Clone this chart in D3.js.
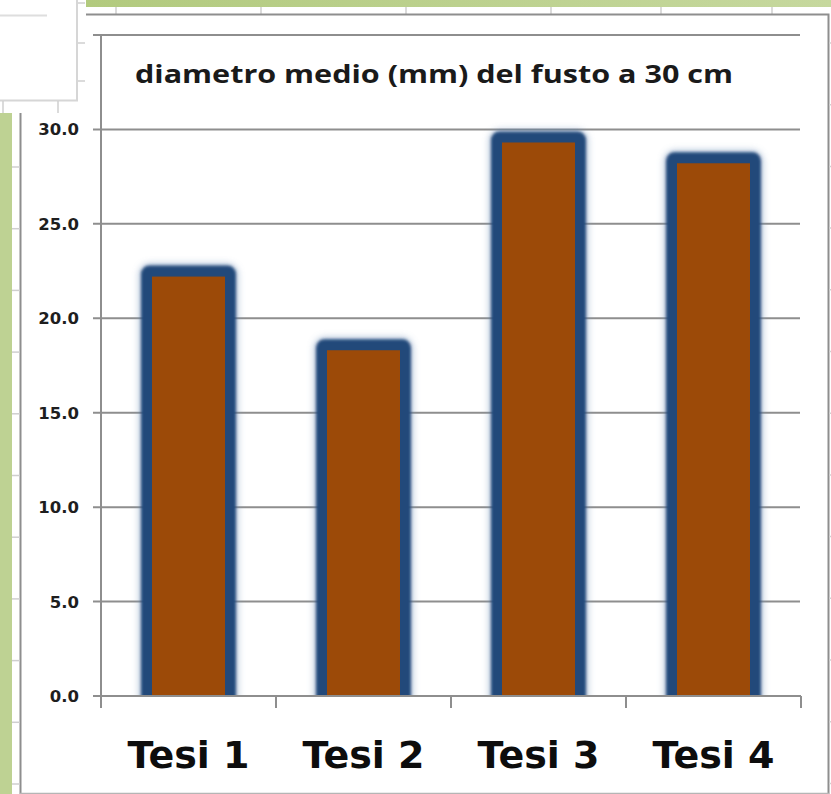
<!DOCTYPE html>
<html>
<head>
<meta charset="utf-8">
<script src="https://cdn.jsdelivr.net/npm/d3@7"></script>
<style>
  html, body { margin: 0; padding: 0; background: #fff; }
  svg { display: block; }
</style>
</head>
<body>
<svg id="chart" width="831" height="794"></svg>
<script>
// Mean stem diameter (mm) measured at 30 cm, one bar per treatment
const categories = ["Tesi 1", "Tesi 2", "Tesi 3", "Tesi 4"];
const diameters = [22.5, 18.6, 29.6, 28.5];
const yTickValues = [0, 5, 10, 15, 20, 25, 30, 35];
// the 35.0 label sits under the cell panel in the top-left corner, so it is not listed
const yTickLabels = ["0.0", "5.0", "10.0", "15.0", "20.0", "25.0", "30.0"];
const chartTitle = "diametro medio (mm) del fusto a 30 cm";

const W = 831, H = 794;
const plot = { left: 101, right: 801, top: 35, bottom: 696 };
const axisGray = "#8e8e8e";
const sheetGray = "#cfcfcf";

const svg = d3.select("#chart");
svg.append("rect").attr("width", W).attr("height", H).attr("fill", "#fff");

const defs = svg.append("defs");
const grad = defs.append("linearGradient").attr("id", "greenBar").attr("x1", "0").attr("x2", "1");
grad.append("stop").attr("offset", "0").attr("stop-color", "#b2ca7e");
grad.append("stop").attr("offset", "1").attr("stop-color", "#c6d89e");
defs.append("filter").attr("id", "soft").attr("x", "-20%").attr("y", "-20%").attr("width", "140%").attr("height", "140%")
  .append("feGaussianBlur").attr("stdDeviation", 1.6);
defs.append("filter").attr("id", "halo").attr("x", "-30%").attr("y", "-30%").attr("width", "160%").attr("height", "160%")
  .append("feGaussianBlur").attr("stdDeviation", 3.2);
defs.append("clipPath").attr("id", "plotClip")
  .append("rect").attr("x", plot.left).attr("y", 0).attr("width", plot.right - plot.left).attr("height", plot.bottom);

// ---- surrounding worksheet frame ----
const frame = svg.append("g");
frame.append("rect").attr("x", 86).attr("y", 0).attr("width", W - 86).attr("height", 7).attr("fill", "url(#greenBar)");
[116, 261, 406, 551, 661, 772].forEach(x => {
  frame.append("line").attr("x1", x).attr("x2", x).attr("y1", 7).attr("y2", 14)
    .attr("stroke", sheetGray).attr("stroke-width", 1.5);
});
frame.append("path").attr("d", `M86,14.5 H828.5 V794`).attr("fill", "none")
  .attr("stroke", axisGray).attr("stroke-width", 2);
for (let y = 43; y < H; y += 61.7) {
  frame.append("line").attr("x1", 829).attr("x2", 831).attr("y1", y).attr("y2", y)
    .attr("stroke", sheetGray).attr("stroke-width", 1.5);
}
frame.append("rect").attr("x", 0).attr("y", 113).attr("width", 12).attr("height", H - 113).attr("fill", "#bed293");
frame.append("line").attr("x1", 20.5).attr("x2", 20.5).attr("y1", 113).attr("y2", H)
  .attr("stroke", axisGray).attr("stroke-width", 2);
frame.append("line").attr("x1", 20).attr("x2", 829).attr("y1", 793.5).attr("y2", 793.5)
  .attr("stroke", "#b5b5b5").attr("stroke-width", 1.5);
for (let y = 167; y < H; y += 61.7) {
  frame.append("line").attr("x1", 12).attr("x2", 20).attr("y1", y).attr("y2", y)
    .attr("stroke", sheetGray).attr("stroke-width", 1.5);
}

// ---- chart ----
const x = d3.scaleBand().domain(categories).range([plot.left, plot.right]).paddingInner(0).paddingOuter(0);
const y = d3.scaleLinear().domain([0, 35]).range([plot.bottom, plot.top]);

const chart = svg.append("g");

// horizontal gridlines, starting with a short outward tick
chart.append("g").selectAll("line").data(yTickValues.filter(v => v > 0)).join("line")
  .attr("x1", plot.left - 8).attr("x2", plot.right - 1)
  .attr("y1", d => y(d)).attr("y2", d => y(d))
  .attr("stroke", axisGray).attr("stroke-width", 2);

// bars: soft dark-blue rim with a crisp brown fill
const barW = x.bandwidth() * 0.48;
const rim = 5.5;
const barX = i => x(categories[i]) + x.bandwidth() / 2 - barW / 2;
const bars = chart.append("g").attr("clip-path", "url(#plotClip)");
bars.selectAll("rect.halo").data(diameters).join("rect").attr("class", "halo")
  .attr("x", (d, i) => barX(i))
  .attr("width", barW)
  .attr("y", d => y(d))
  .attr("height", d => y(0) - y(d) + 20)
  .attr("rx", 4)
  .attr("fill", "none").attr("stroke", "#6f8fb8").attr("stroke-width", 16)
  .attr("stroke-opacity", 0.45)
  .attr("filter", "url(#halo)");
bars.selectAll("rect.rim").data(diameters).join("rect").attr("class", "rim")
  .attr("x", (d, i) => barX(i))
  .attr("width", barW)
  .attr("y", d => y(d))
  .attr("height", d => y(0) - y(d) + 20)
  .attr("rx", 3)
  .attr("fill", "#24497a").attr("stroke", "#24497a").attr("stroke-width", 11)
  .attr("stroke-linejoin", "round")
  .attr("filter", "url(#soft)");
bars.selectAll("rect.fill").data(diameters).join("rect").attr("class", "fill")
  .attr("x", (d, i) => barX(i) + rim)
  .attr("width", barW - 2 * rim)
  .attr("y", d => y(d) + rim)
  .attr("height", d => y(0) - y(d))
  .attr("fill", "#9c4a08");

// y axis line
chart.append("line").attr("x1", plot.left).attr("x2", plot.left)
  .attr("y1", plot.top - 1).attr("y2", plot.bottom + 12)
  .attr("stroke", axisGray).attr("stroke-width", 2);

// x axis with category boundary ticks
const xAxis = d3.axisBottom(x).tickValues([]).tickSizeOuter(0);
const xg = chart.append("g").attr("transform", `translate(0,${plot.bottom})`).call(xAxis);
xg.select(".domain").remove();
xg.append("line").attr("x1", plot.left - 8).attr("x2", plot.right).attr("y1", 0).attr("y2", 0)
  .attr("stroke", axisGray).attr("stroke-width", 2);
xg.selectAll("line.bound").data(categories).join("line").attr("class", "bound")
  .attr("x1", d => x(d) + x.bandwidth()).attr("x2", d => x(d) + x.bandwidth())
  .attr("y1", 0).attr("y2", 12)
  .attr("stroke", axisGray).attr("stroke-width", 2);

// category labels
chart.append("g").selectAll("text").data(categories).join("text")
  .attr("x", d => x(d) + x.bandwidth() / 2)
  .attr("y", 768)
  .attr("text-anchor", "middle")
  .attr("font-family", "'DejaVu Sans', Verdana, sans-serif")
  .attr("font-weight", "bold")
  .attr("font-size", 38)
  .attr("fill", "#0d0d0d")
  .text(d => d);

// y tick labels
chart.append("g").selectAll("text").data(yTickLabels).join("text")
  .attr("x", 79)
  .attr("y", (d, i) => y(yTickValues[i]))
  .attr("dy", "0.36em")
  .attr("text-anchor", "end")
  .attr("font-family", "'DejaVu Sans', Verdana, sans-serif")
  .attr("font-weight", "bold")
  .attr("font-size", 16.5)
  .attr("fill", "#1e1e1e")
  .text(d => d);

// title
chart.append("text")
  .attr("x", 135).attr("y", 83)
  .attr("font-family", "'Open Sans', sans-serif")
  .attr("font-weight", "bold")
  .attr("font-size", 24.5)
  .attr("textLength", 598)
  .attr("lengthAdjust", "spacingAndGlyphs")
  .attr("fill", "#1a1a1a")
  .text(chartTitle);

// ---- cell panel overlapping the top-left corner ----
const panel = svg.append("g");
panel.append("rect").attr("x", 0).attr("y", 0).attr("width", 77).attr("height", 100).attr("fill", "#fff");
panel.append("path").attr("d", "M77,0 V100.5 H0").attr("fill", "none").attr("stroke", "#d6d6d6").attr("stroke-width", 2);
panel.append("line").attr("x1", 0).attr("x2", 47).attr("y1", 15.5).attr("y2", 15.5).attr("stroke", "#dedede").attr("stroke-width", 2);
[3, 43, 81].forEach(yy => panel.append("line").attr("x1", 78).attr("x2", 85).attr("y1", yy).attr("y2", yy)
  .attr("stroke", sheetGray).attr("stroke-width", 1.5));
[3, 58].forEach(xx => panel.append("line").attr("x1", xx).attr("x2", xx).attr("y1", 101).attr("y2", 113)
  .attr("stroke", sheetGray).attr("stroke-width", 1.5));
</script>
</body>
</html>
